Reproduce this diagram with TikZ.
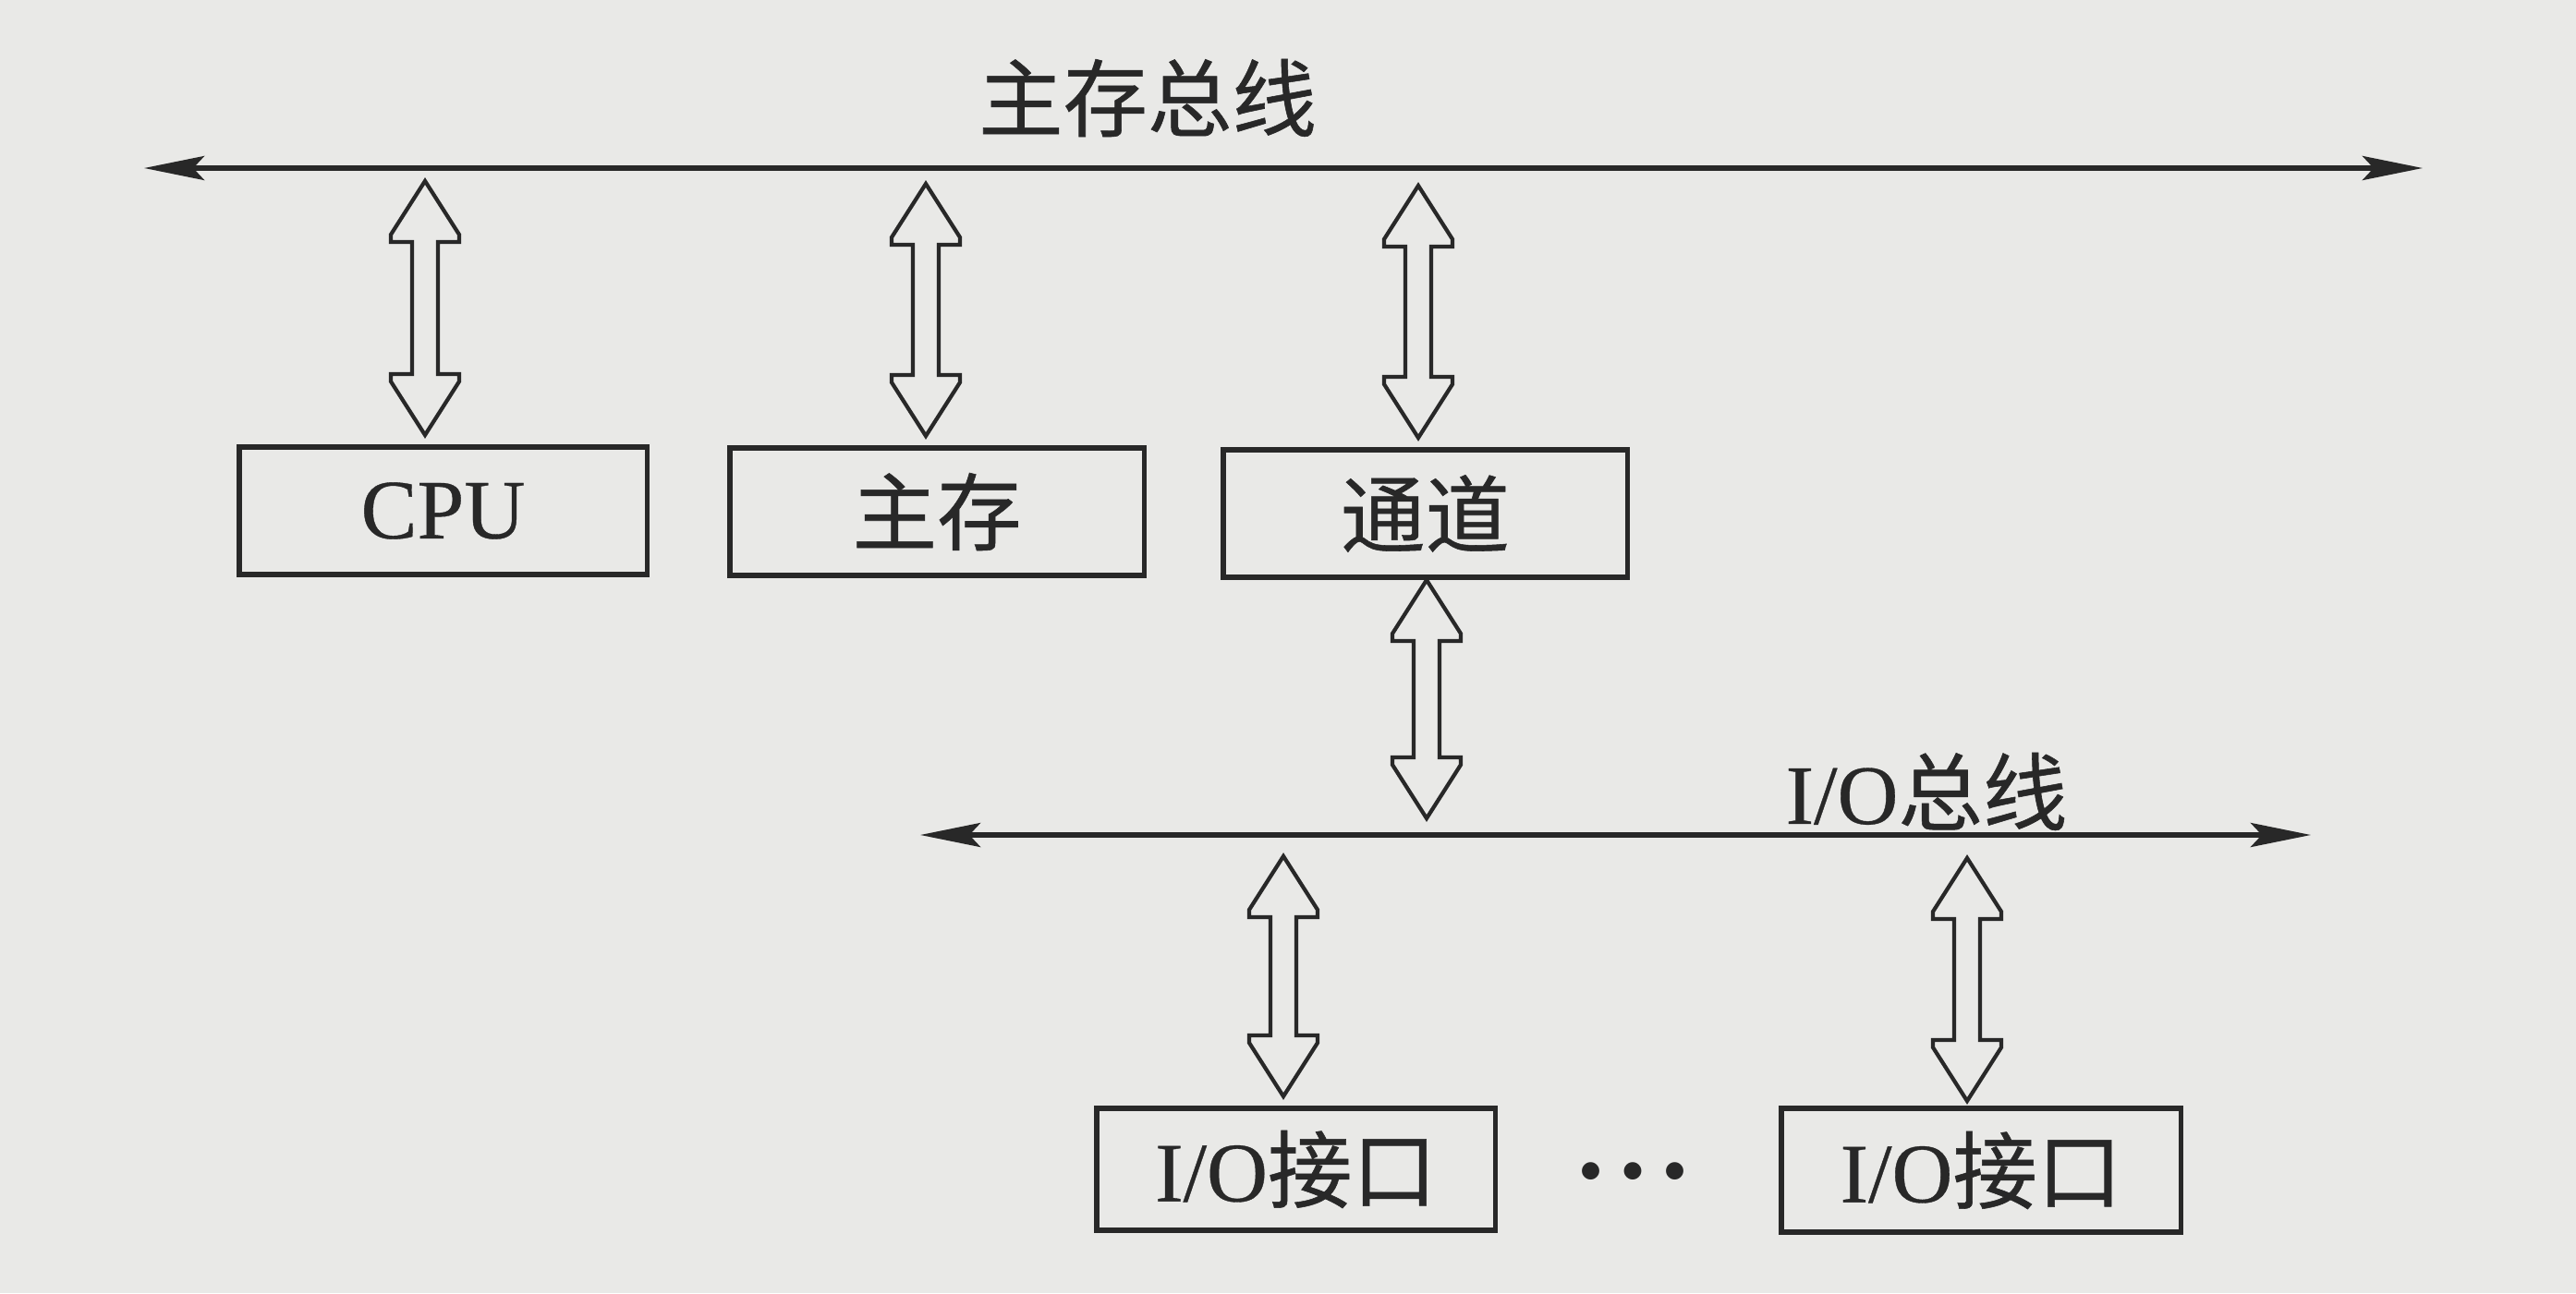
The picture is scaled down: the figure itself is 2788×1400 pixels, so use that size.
\documentclass[tikz,border=0pt]{standalone}
\usepackage{fontspec}
\setmainfont{Liberation Serif}[FakeBold=0.4]
\newfontfamily\cjk{Noto Sans CJK SC}[FakeBold=0.6]
\newfontfamily\dotsfont{DejaVu Sans}
\usetikzlibrary{arrows.meta,calc}
\definecolor{paper}{RGB}{233,233,231}
\definecolor{ink}{RGB}{40,40,40}
\newlength\Ahw \setlength\Ahw{0.37cm}
\newlength\Ahl \setlength\Ahl{0.66cm}
\newlength\Asw \setlength\Asw{0.14cm}
\newlength\Ast \setlength\Ast{0.08cm}
\newcommand\zh[1]{{\cjk #1}}
\newcommand\darrow[2]{%
  \draw[harrow] let \p1=(#1), \p2=(#2) in
   (\x1,\y1) -- (\x1+\Ahw,\y1-\Ahl+\Ast) -- (\x1+\Ahw,\y1-\Ahl) -- (\x1+\Asw,\y1-\Ahl)
   -- (\x1+\Asw,\y2+\Ahl) -- (\x1+\Ahw,\y2+\Ahl) -- (\x1+\Ahw,\y2+\Ahl-\Ast) -- (\x1,\y2)
   -- (\x1-\Ahw,\y2+\Ahl-\Ast) -- (\x1-\Ahw,\y2+\Ahl) -- (\x1-\Asw,\y2+\Ahl)
   -- (\x1-\Asw,\y1-\Ahl) -- (\x1-\Ahw,\y1-\Ahl) -- (\x1-\Ahw,\y1-\Ahl+\Ast) -- cycle;}
\tikzset{
  box/.style={draw=ink, line width=1.5pt, inner sep=0pt, text=ink,
    font=\fontsize{26}{30}\selectfont},
  lbl/.style={inner sep=0pt, text=ink, font=\fontsize{26}{30}\selectfont},
  bus/.style={draw=ink, line width=1.5pt,
    {Stealth[length=6.5mm,width=2.6mm,inset=1.2mm]}-{Stealth[length=6.5mm,width=2.6mm,inset=1.2mm]}},
  harrow/.style={draw=ink, line width=1.2pt, line join=miter, fill=paper}
}
\begin{document}
\begin{tikzpicture}[x=0.01cm,y=-0.01cm]
\fill[paper] (0,0) rectangle (2788,1400);
\useasboundingbox (0,0) rectangle (2788,1400);
% main bus
\coordinate (mbL) at (156,182);
\coordinate (mbR) at (2622,182);
\draw[bus] (mbL) -- (mbR);
\node[lbl] (mbt) at (1242,106) {\zh{主存总线}};
% top boxes
\node[box, minimum width=4.41cm, minimum height=1.38cm] (cpu) at (479.5,553) {CPU};
\node[box, minimum width=4.48cm, minimum height=1.38cm] (mem) at (1014,554) {\zh{主存}};
\node[box, minimum width=4.37cm, minimum height=1.38cm] (chan) at (1542.5,556) {\zh{通道}};
% io bus
\coordinate (ioL) at (996,904);
\coordinate (ioR) at (2501,904);
\draw[bus] (ioL) -- (ioR);
\node[lbl] (iot) at (2085,857) {I/O\zh{总线}};
% io boxes
\node[box, minimum width=4.31cm, minimum height=1.32cm] (io1) at (1402.5,1266) {I/O\zh{接口}};
\node[box, minimum width=4.32cm, minimum height=1.34cm] (io2) at (2144,1267) {I/O\zh{接口}};
\node[inner sep=0pt, text=ink] (dots) at (1767,1268)
  {\dotsfont\fontsize{7}{8}\selectfont\makebox[0.455cm]{●}\makebox[0.455cm]{●}\makebox[0.455cm]{●}};
% hollow double arrows
\coordinate (a1t) at (460,196);  \coordinate (a1b) at (460,471);
\coordinate (a2t) at (1002,199); \coordinate (a2b) at (1002,472);
\coordinate (a3t) at (1535,201); \coordinate (a3b) at (1535,474);
\coordinate (a4t) at (1544,628); \coordinate (a4b) at (1544,886);
\coordinate (a5t) at (1389,927); \coordinate (a5b) at (1389,1187);
\coordinate (a6t) at (2129,929); \coordinate (a6b) at (2129,1192);
\darrow{a1t}{a1b}
\darrow{a2t}{a2b}
\darrow{a3t}{a3b}
\darrow{a4t}{a4b}
\darrow{a5t}{a5b}
\darrow{a6t}{a6b}
\end{tikzpicture}
\end{document}
